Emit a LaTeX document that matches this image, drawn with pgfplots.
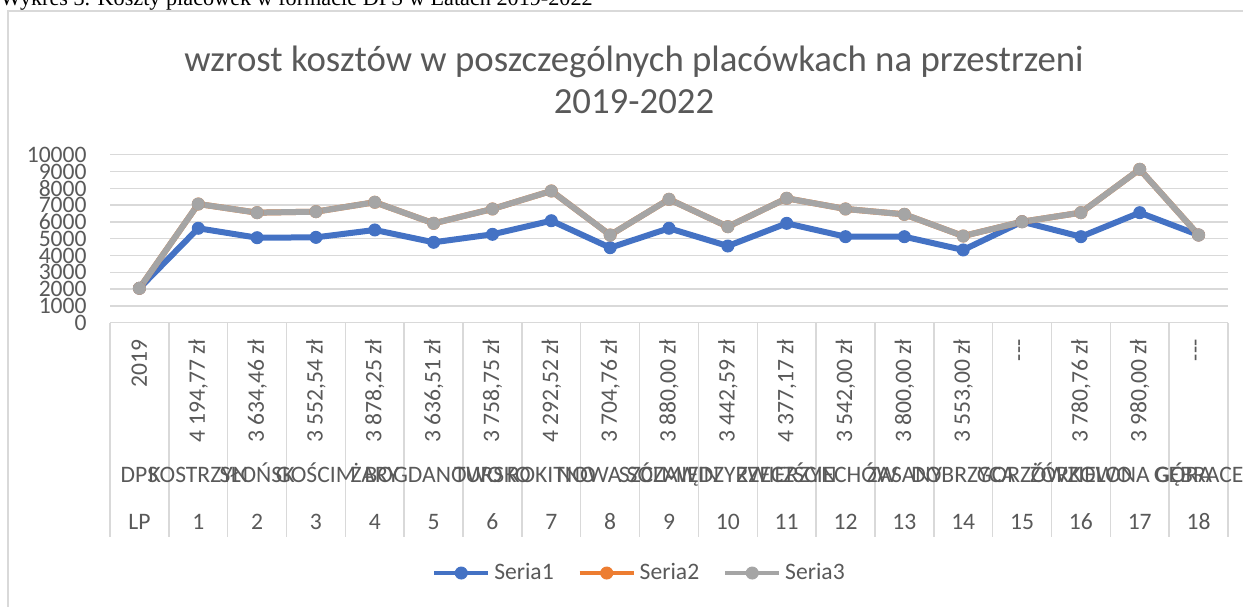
\documentclass[border=0pt]{standalone}
\usepackage{pgfplots}
\pgfplotsset{compat=1.18}
\usepackage{fontspec}
\setmainfont{Carlito}
\newfontfamily\serifcap{Liberation Serif}
\definecolor{txt}{HTML}{595959}
\definecolor{gridc}{HTML}{D9D9D9}
\definecolor{s1}{HTML}{4472C4}
\definecolor{s2}{HTML}{ED7D31}
\definecolor{s3}{HTML}{A5A5A5}
\begin{document}
\begin{tikzpicture}
\useasboundingbox (0,0) rectangle (621.5pt,303pt);
\node[anchor=base west, inner sep=0] at (0pt,300.25pt) {\serifcap\fontsize{11.1}{13}\selectfont Wykres 3. Koszty placówek w formacie DPS w Latach 2019-2022};
\draw[gridc, line width=0.75pt] (4pt,-10pt) rectangle (640pt,297.5pt);
\node[text=txt, font=\fontsize{18.4}{20}\selectfont] at (317pt,272pt) {wzrost kosztów w poszczególnych placówkach na przestrzeni};
\node[text=txt, font=\fontsize{18.4}{20}\selectfont] at (317pt,252pt) {2019-2022};
\begin{axis}[
  at={(55pt,141.65pt)}, anchor=south west, scale only axis,
  width=559pt, height=84pt,
  xmin=-0.5, xmax=18.5, ymin=0, ymax=10000,
  ytick={0,1000,...,10000},
  scaled y ticks=false,
  xtick={0,...,18},
  xticklabels={{2019},{4 194,77 zł},{3 634,46 zł},{3 552,54 zł},{3 878,25 zł},{3 636,51 zł},{3 758,75 zł},{4 292,52 zł},{3 704,76 zł},{3 880,00 zł},{3 442,59 zł},{4 377,17 zł},{3 542,00 zł},{3 800,00 zł},{3 553,00 zł},{-{}-{}-},{3 780,76 zł},{3 980,00 zł},{-{}-{}-}},
  ymajorgrids, major grid style={gridc, line width=0.75pt},
  axis lines*=left,
  x axis line style={gridc, line width=0.75pt},
  y axis line style={draw=none},
  xtick style={draw=none}, ytick style={draw=none},
  /pgf/number format/.cd, 1000 sep={}, assume math mode=true, /pgfplots/.cd,
  ticklabel style={text=txt, font=\fontsize{11.8}{12}\selectfont},
  xticklabel style={rotate=90, anchor=east, inner sep=0pt},
  xticklabel shift=8.2pt,
  yticklabel style={anchor=east, inner sep=0pt},
  yticklabel shift=11.5pt,
  legend style={at={(0.4745,-1.49)}, anchor=center, draw=none, fill=none,
    legend columns=3, font=\fontsize{11.8}{12}\selectfont, text=txt,
    /tikz/every even column/.append style={column sep=10pt}},
  legend image code/.code={\draw[#1, mark repeat=2, mark phase=2, line width=2pt] plot coordinates {(0pt,0pt) (13.5pt,0pt) (27pt,0pt)};},
  clip=false,
]
\addplot[s1, line width=3pt, mark=*, mark size=3pt, mark options={solid, fill=s1, draw=s1, line width=0.5pt}] coordinates {
(0,2050)(1,5620)(2,5060)(3,5080)(4,5520)(5,4785)(6,5260)(7,6070)(8,4465)(9,5620)(10,4565)(11,5915)(12,5120)(13,5120)(14,4330)(15,6010)(16,5120)(17,6550)(18,5220)};
\addlegendentry{Seria1}
\addplot[s2, line width=3pt, mark=*, mark size=3pt, mark options={solid, fill=s2, draw=s2, line width=0.5pt}] coordinates {
(0,2050)(1,7065)(2,6550)(3,6610)(4,7170)(5,5915)(6,6770)(7,7840)(8,5220)(9,7345)(10,5715)(11,7405)(12,6770)(13,6450)(14,5160)(15,6010)(16,6550)(17,9130)(18,5220)};
\addlegendentry{Seria2}
\addplot[s3, line width=3pt, mark=*, mark size=3pt, mark options={solid, fill=s3, draw=s3, line width=0.5pt}] coordinates {
(0,2050)(1,7065)(2,6550)(3,6610)(4,7170)(5,5915)(6,6770)(7,7840)(8,5220)(9,7345)(10,5715)(11,7405)(12,6770)(13,6450)(14,5160)(15,6010)(16,6550)(17,9130)(18,5220)};
\addlegendentry{Seria3}
\end{axis}
\foreach \k in {0,...,19} {
  \draw[gridc, line width=0.75pt] ({(55+29.421*\k)*1pt},141.65pt) -- ({(55+29.421*\k)*1pt},34.5pt);
}
\foreach \i/\n in {0/DPS,1/KOSTRZYN,2/SŁOŃSK,3/GOŚCIM,4/ŻARY,5/BOGDANOWO,6/TURSKO,7/ROKITNO,8/NOWA SÓL,9/SZCZAWIN,10/MIĘDZYRZECZ,11/ZWIERZYN,12/ŚCIECHÓW,13/ZASANY,14/DOBRZYCA,15/GORZÓW,16/ŻÓRKOWO,17/ZIELONA GÓRA,18/GĘBRACE} {
  \node[text=txt, font=\fontsize{11.8}{12}\selectfont, inner sep=0pt, anchor=base] at ({(55+29.421*(\i+0.5))*1pt},62pt) {\n};
}
\foreach \i/\n in {0/LP,1/1,2/2,3/3,4/4,5/5,6/6,7/7,8/8,9/9,10/10,11/11,12/12,13/13,14/14,15/15,16/16,17/17,18/18} {
  \node[text=txt, font=\fontsize{11.8}{12}\selectfont, inner sep=0pt, anchor=base] at ({(55+29.421*(\i+0.5))*1pt},38.5pt) {\n};
}
\end{tikzpicture}
\end{document}
